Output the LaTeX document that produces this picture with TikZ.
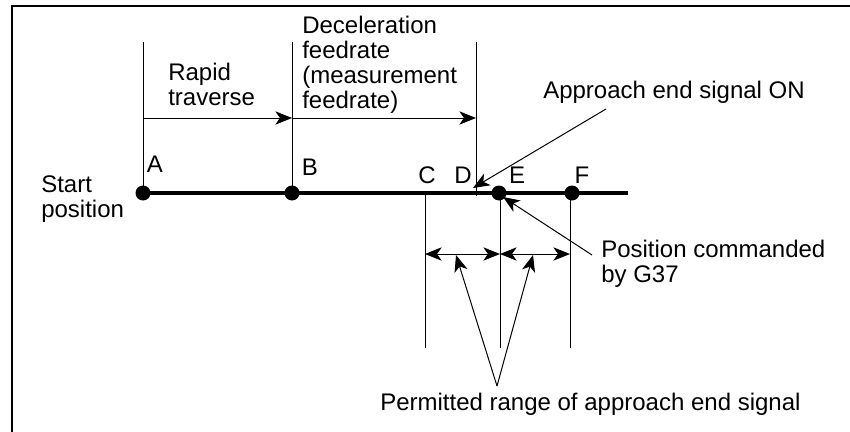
\documentclass[tikz,border=0pt]{standalone}
\usepackage{fontspec}
\setmainfont{Liberation Sans}
\usetikzlibrary{calc}
\usetikzlibrary{arrows.meta}

\tikzset{
  lbl/.style={inner sep=0pt, font=\fontsize{18}{18.75}\selectfont, align=left},
  ptlabel/.style={inner sep=0pt, font=\fontsize{18}{18.75}\selectfont},
  hair/.style={line width=0.75pt},
  travel/.style={line width=2.4pt},
  tip/.style={-{Stealth[length=12.5pt,width=10pt,inset=3.5pt]}},
  dimtip/.style={{Stealth[length=12.5pt,width=10pt,inset=3.5pt]}-{Stealth[length=12.5pt,width=10pt,inset=3.5pt]}}
}

\begin{document}
\begin{tikzpicture}[x=0.75pt,y=-0.75pt]
\useasboundingbox (0,0) rectangle (850,432);

% Positions on the travel line
\coordinate (A) at (143,193);
\coordinate (B) at (292,193);
\coordinate (C) at (425,193);
\coordinate (D) at (476,193);
\coordinate (E) at (500,193);
\coordinate (F) at (570,193);
\coordinate (lineend) at (628,193);

% Rows used by the guide lines
\coordinate (top) at (0,42);
\coordinate (speedrow) at (0,118);
\coordinate (dimrow) at (0,254);
\coordinate (bottom) at (0,348);
\coordinate (apex) at (497,386);

% Frame (only top and left edges)
\draw[line width=1.5pt] (12,432) -- (12,6) -- (850,6);

% Guide lines
\draw[hair] (A |- top) -- (A);
\draw[hair] (B |- top) -- (B);
\draw[hair] (D |- top) -- ($(D)+(0,3)$);
\draw[hair] (C) -- (C |- bottom);
\draw[hair] (E) -- (E |- bottom);
\draw[hair] (F) -- (F |- bottom);

% Travel line and points
\draw[travel] (A) -- (lineend);
\fill (A) circle (7.5);
\fill (B) circle (7.5);
\fill ($(E)+(-1,0)$) circle (7.5);
\fill ($(F)+(2,0)$) circle (7.5);

% Feedrate arrows
\draw[hair,tip] (A |- speedrow) -- (B |- speedrow);
\draw[hair,tip] (B |- speedrow) -- (D |- speedrow);

% Permitted range
\draw[hair,dimtip] (C |- dimrow) -- (E |- dimrow);
\draw[hair,dimtip] (E |- dimrow) -- (F |- dimrow);
\draw[hair,tip] (apex) -- (456,255);
\draw[hair,tip] (apex) -- (533,255);

% Leaders
\draw[hair,tip] (606,109) -- (473,188);
\draw[hair,tip] (592,255) -- (503,197);

% Labels (base anchor sits on the last line)
\node[lbl,anchor=base west] (start) at (41,217) {Start\\position};
\node[lbl,anchor=base west] (rapid) at (168,105) {Rapid\\traverse};
\node[lbl,anchor=base west] (decel) at (302,108) {Deceleration\\feedrate\\(measurement\\feedrate)};
\node[lbl,anchor=base west] (signalon) at (543,98) {Approach end signal ON};
\node[lbl,anchor=base west] (g37) at (601,282) {Position commanded\\by G37};
\node[lbl,anchor=base west] (range) at (380,410) {Permitted range of approach end signal};

\node[ptlabel,anchor=base] (labA) at (155,172) {A};
\node[ptlabel,anchor=base] (labB) at (310,175) {B};
\node[ptlabel,anchor=base] (labC) at (427,183) {C};
\node[ptlabel,anchor=base] (labD) at (463,183) {D};
\node[ptlabel,anchor=base] (labE) at (517,183) {E};
\node[ptlabel,anchor=base] (labF) at (582,183) {F};
\end{tikzpicture}
\end{document}
